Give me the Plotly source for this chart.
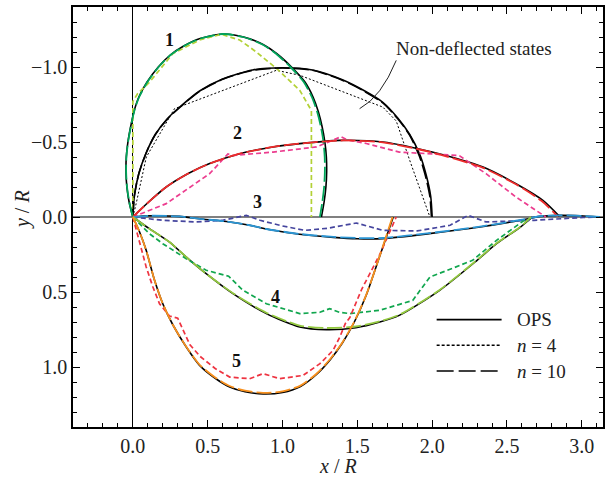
import plotly.graph_objects as go

# ---------------- data ----------------
# Non-deflected states
nd_ops_x = [0, 0.01, 0.04, 0.09, 0.15, 0.23, 0.31, 0.446, 0.6, 0.8, 1.0, 1.2, 1.4, 1.55, 1.67, 1.77, 1.85, 1.92, 1.96, 1.99, 2.0]
nd_ops_y = [0, -0.14, -0.29, -0.43, -0.55, -0.655, -0.73, -0.84, -0.92, -0.98, -0.995, -0.98, -0.915, -0.84, -0.765, -0.66, -0.55, -0.41, -0.28, -0.14, 0]
nd_n10_x = [0, 0.01, 0.04, 0.09, 0.15, 0.23, 0.31, 0.446, 0.6, 0.8, 1.0, 1.2, 1.4, 1.55, 1.67, 1.77, 1.85, 1.915, 1.955, 1.985, 1.995]
nd_n10_y = [0, -0.14, -0.29, -0.43, -0.55, -0.652, -0.728, -0.838, -0.918, -0.978, -0.993, -0.978, -0.912, -0.836, -0.76, -0.655, -0.545, -0.405, -0.275, -0.135, 0]
nd_n4_x = [0, 0.022, 0.09, 0.278, 0.959, 1.115, 1.67, 1.76, 1.85, 1.985]
nd_n4_y = [0, -0.089, -0.40, -0.722, -0.978, -0.945, -0.733, -0.64, -0.378, 0]

# Curve 1
c1_ops_x = [0, -0.025, -0.04, -0.046, -0.044, -0.033, -0.011, 0.012, 0.04, 0.095, 0.17, 0.25, 0.34, 0.45, 0.60, 0.74, 0.87, 0.96, 1.06, 1.15, 1.204, 1.24, 1.265, 1.283, 1.293, 1.295, 1.29, 1.278, 1.26]
c1_ops_y = [0, -0.1, -0.2, -0.3, -0.4, -0.5, -0.62, -0.72, -0.80, -0.90, -1.0, -1.08, -1.14, -1.19, -1.22, -1.20, -1.15, -1.09, -1.0, -0.9, -0.8, -0.7, -0.6, -0.5, -0.4, -0.3, -0.2, -0.1, 0.0]
c1_n10_x = [0, -0.024, -0.039, -0.045, -0.043, -0.032, -0.01, 0.013, 0.042, 0.097, 0.172, 0.252, 0.342, 0.452, 0.60, 0.738, 0.866, 0.955, 1.053, 1.142, 1.196, 1.232, 1.257, 1.274, 1.282, 1.283, 1.278, 1.266, 1.25]
c1_n10_y = [0, -0.1, -0.2, -0.3, -0.4, -0.5, -0.62, -0.72, -0.80, -0.90, -1.0, -1.08, -1.14, -1.19, -1.22, -1.20, -1.15, -1.09, -1.0, -0.9, -0.8, -0.7, -0.6, -0.5, -0.4, -0.3, -0.2, -0.1, 0.0]
c1_n4_x = [0, 0.0, 0.0, 0.03, 0.112, 0.268, 0.446, 0.591, 0.714, 0.825, 0.96, 1.115, 1.193, 1.193]
c1_n4_y = [0, -0.40, -0.77, -0.82, -0.90, -1.09, -1.18, -1.218, -1.18, -1.10, -0.99, -0.845, -0.71, 0.0]

# Curve 2
c2_ops_x = [0, 0.1, 0.223, 0.37, 0.513, 0.714, 0.937, 1.115, 1.38, 1.67, 2.0, 2.34, 2.56, 2.74, 2.85]
c2_ops_y = [0, -0.095, -0.2, -0.29, -0.356, -0.422, -0.467, -0.489, -0.511, -0.50, -0.433, -0.333, -0.222, -0.111, -0.005]
c2_n10_x = [0, 0.1, 0.223, 0.37, 0.513, 0.714, 0.937, 1.115, 1.38, 1.67, 2.0, 2.34, 2.56, 2.73, 2.84]
c2_n10_y = [0, -0.095, -0.2, -0.29, -0.356, -0.422, -0.467, -0.489, -0.51, -0.498, -0.43, -0.328, -0.218, -0.108, -0.003]
c2_n4_x = [0, 0.223, 0.513, 0.60, 0.635, 0.67, 0.937, 1.227, 1.36, 1.39, 1.43, 1.56, 1.78, 2.18, 2.36, 2.56, 2.76]
c2_n4_y = [0, -0.089, -0.289, -0.38, -0.42, -0.41, -0.433, -0.467, -0.52, -0.535, -0.515, -0.49, -0.433, -0.41, -0.289, -0.133, 0]

# Curve 3
c3_ops_x = [0, 0.11, 0.31, 0.446, 0.625, 0.78, 0.892, 1.115, 1.34, 1.5, 1.67, 1.98, 2.32, 2.59, 2.72, 2.85, 2.99, 3.12]
c3_ops_y = [0, -0.008, -0.004, 0.012, 0.03, 0.055, 0.08, 0.115, 0.136, 0.145, 0.144, 0.111, 0.067, 0.022, -0.004, -0.011, -0.008, 0]
c3_n10_x = [0, 0.11, 0.31, 0.446, 0.625, 0.78, 0.892, 1.115, 1.34, 1.5, 1.67, 1.98, 2.32, 2.59, 2.72, 2.85, 2.99, 3.12]
c3_n10_y = [0, -0.008, -0.004, 0.012, 0.03, 0.055, 0.08, 0.113, 0.133, 0.14, 0.14, 0.108, 0.064, 0.02, -0.005, -0.011, -0.008, 0]
c3_n4_x = [0, 0.2, 0.424, 0.6, 0.758, 0.85, 1.0, 1.15, 1.3, 1.494, 1.67, 1.9, 2.12, 2.24, 2.36, 2.68, 3.01, 3.1]
c3_n4_y = [0, 0.022, 0.033, 0.022, -0.011, 0.022, 0.06, 0.089, 0.075, 0.04, 0.089, 0.093, 0.055, -0.011, 0.033, 0.022, 0.003, 0]

# Curve 4
c4_ops_x = [0, 0.11, 0.245, 0.357, 0.49, 0.669, 0.892, 1.115, 1.293, 1.49, 1.65, 1.78, 2.05, 2.3, 2.43, 2.59, 2.67]
c4_ops_y = [0, 0.078, 0.167, 0.267, 0.378, 0.511, 0.644, 0.733, 0.751, 0.738, 0.70, 0.656, 0.489, 0.289, 0.178, 0.067, 0.0]
c4_n10_x = [0, 0.11, 0.245, 0.357, 0.49, 0.669, 0.892, 1.115, 1.293, 1.49, 1.65, 1.78, 2.05, 2.3, 2.43, 2.59, 2.66]
c4_n10_y = [0, 0.078, 0.167, 0.267, 0.378, 0.508, 0.638, 0.724, 0.74, 0.73, 0.695, 0.652, 0.486, 0.286, 0.176, 0.065, 0.0]
c4_n4_x = [0, 0.11, 0.2, 0.357, 0.49, 0.6, 0.64, 0.736, 0.892, 1.115, 1.25, 1.315, 1.38, 1.45, 1.65, 1.87, 1.985, 2.1, 2.27, 2.43, 2.63]
c4_n4_y = [0, 0.111, 0.178, 0.278, 0.355, 0.385, 0.395, 0.489, 0.578, 0.644, 0.635, 0.611, 0.635, 0.644, 0.622, 0.556, 0.40, 0.356, 0.289, 0.156, 0.011]

# Curve 5
c5_ops_x = [0, 0.045, 0.089, 0.145, 0.2, 0.268, 0.357, 0.446, 0.55, 0.647, 0.75, 0.87, 1.0, 1.12, 1.227, 1.32, 1.40, 1.48, 1.56, 1.65, 1.74]
c5_ops_y = [0, 0.10, 0.222, 0.422, 0.578, 0.72, 0.867, 0.989, 1.075, 1.133, 1.165, 1.18, 1.17, 1.13, 1.05, 0.95, 0.84, 0.70, 0.52, 0.26, 0]
c5_n10_x = [0, 0.045, 0.089, 0.145, 0.2, 0.268, 0.357, 0.446, 0.55, 0.647, 0.75, 0.87, 1.0, 1.12, 1.227, 1.32, 1.40, 1.48, 1.56, 1.65, 1.735]
c5_n10_y = [0, 0.10, 0.222, 0.422, 0.578, 0.72, 0.865, 0.985, 1.07, 1.127, 1.158, 1.172, 1.163, 1.124, 1.045, 0.945, 0.836, 0.697, 0.518, 0.258, 0]
c5_n4_x = [0, 0.045, 0.089, 0.134, 0.178, 0.245, 0.30, 0.334, 0.38, 0.45, 0.55, 0.647, 0.78, 0.87, 0.98, 1.137, 1.25, 1.338, 1.383, 1.42, 1.45, 1.53, 1.65, 1.76]
c5_n4_y = [0, 0.178, 0.333, 0.467, 0.578, 0.660, 0.675, 0.75, 0.85, 0.93, 1.01, 1.067, 1.078, 1.044, 1.078, 1.056, 0.978, 0.889, 0.80, 0.71, 0.67, 0.48, 0.25, 0]

x_ticks = [0.0, 0.5, 1.0, 1.5, 2.0, 2.5, 3.0]
x_ticktext = ["0.0", "0.5", "1.0", "1.5", "2.0", "2.5", "3.0"]
y_ticks = [-1.0, -0.5, 0.0, 0.5, 1.0]
y_ticktext = ["\u22121.0", "\u22120.5", "0.0", "0.5", "1.0"]

curve_labels = ["1", "2", "3", "4", "5"]
label_x = [0.245, 0.70, 0.83, 0.95, 0.69]
label_y = [-1.18, -0.56, -0.10, 0.53, 0.96]

legend_names = ["OPS", "<i>n</i> = 4", "<i>n</i> = 10"]

# ---------------- figure ----------------
FONT = "Liberation Serif, Times New Roman, serif"
SHORT = "5px,3px"
LONG = "15px,4px"
DOT = "2px,2px"

fig = go.Figure()

def add(x, y, color, dash, width, shape="spline"):
    fig.add_trace(go.Scatter(
        x=x, y=y, mode="lines", showlegend=False, hoverinfo="skip",
        line=dict(color=color, dash=dash, width=width, shape=shape,
                  smoothing=0.7 if shape == "spline" else None)))

# OPS (black solid) underneath
for xs, ys in [(nd_ops_x, nd_ops_y), (c1_ops_x, c1_ops_y), (c2_ops_x, c2_ops_y),
               (c3_ops_x, c3_ops_y), (c4_ops_x, c4_ops_y), (c5_ops_x, c5_ops_y)]:
    add(xs, ys, "black", "solid", 1.6)

# n = 4 (short dashes)
add(nd_n4_x, nd_n4_y, "black", DOT, 1.0, "linear")
add(c1_n4_x, c1_n4_y, "#b3d136", SHORT, 1.7, "linear")
add(c2_n4_x, c2_n4_y, "#ec3d8f", SHORT, 1.7, "linear")
add(c3_n4_x, c3_n4_y, "#45459e", SHORT, 1.7, "linear")
add(c4_n4_x, c4_n4_y, "#10a64e", SHORT, 1.7, "linear")
add(c5_n4_x, c5_n4_y, "#ee3340", SHORT, 1.7, "linear")

# n = 10 (long dashes)
add(nd_n10_x, nd_n10_y, "black", LONG, 1.6)
add(c1_n10_x, c1_n10_y, "#00a55a", LONG, 1.8)
add(c2_n10_x, c2_n10_y, "#ee2b2b", LONG, 1.8)
add(c3_n10_x, c3_n10_y, "#2b95d3", LONG, 1.8)
add(c4_n10_x, c4_n10_y, "#92c83e", LONG, 1.8)
add(c5_n10_x, c5_n10_y, "#f7901e", LONG, 1.8)

# curve number labels
for t, lx, ly in zip(curve_labels, label_x, label_y):
    fig.add_annotation(x=lx, y=ly, text="<b>%s</b>" % t, showarrow=False,
                       font=dict(family=FONT, size=18, color="#111"))

# "Non-deflected states" text and pointer
fig.add_annotation(x=2.28, y=-1.123, text="Non-deflected states", showarrow=False,
                   font=dict(family=FONT, size=19, color="#222"))
fig.add_shape(type="path", xref="x", yref="y",
              path="M 1.76,-1.044 Q 1.66,-0.80 1.515,-0.722",
              line=dict(color="#222", width=1))

# hand-drawn legend
leg_y = [0.684, 0.855, 1.027]
leg_dash = ["solid", "3px,2px", "17px,5px"]
for name, ly, dsh in zip(legend_names, leg_y, leg_dash):
    fig.add_shape(type="line", xref="x", yref="y", x0=2.03, x1=2.464, y0=ly, y1=ly,
                  line=dict(color="black", width=1.6, dash=dsh))
    fig.add_annotation(x=2.553, y=ly, text=name, showarrow=False, xanchor="left",
                       font=dict(family=FONT, size=19, color="#222"))

# axis titles
fig.add_annotation(xref="paper", yref="paper", x=0.5, y=-0.093, xanchor="center", yanchor="middle",
                   text="<i>x</i> / <i>R</i>",
                   showarrow=False, font=dict(family=FONT, size=20, color="#222"))
fig.add_annotation(xref="paper", yref="paper", x=-0.094, y=0.517, xanchor="center", yanchor="middle",
                   text="<i>y</i> / <i>R</i>",
                   showarrow=False, textangle=-90, font=dict(family=FONT, size=20, color="#222"))

axis_common = dict(
    showline=True, linecolor="black", linewidth=1.5, mirror="ticks",
    ticks="inside", ticklen=7, tickwidth=1, tickcolor="black",
    showgrid=False, automargin=False,
    tickfont=dict(family=FONT, size=20, color="#222"),
)

fig.update_xaxes(range=[-0.4, 3.1416], tickvals=x_ticks, ticktext=x_ticktext,
                 zeroline=True, zerolinecolor="black", zerolinewidth=1,
                 minor=dict(dtick=0.1, tick0=0, ticks="inside", ticklen=4, tickcolor="black", showgrid=False),
                 **axis_common)
fig.update_yaxes(range=[1.4, -1.4], tickvals=y_ticks, ticktext=y_ticktext,
                 zeroline=True, zerolinecolor="#808080", zerolinewidth=1.5,
                 minor=dict(dtick=0.1, tick0=0, ticks="inside", ticklen=4, tickcolor="black", showgrid=False),
                 **axis_common)

fig.update_layout(width=605, height=479, margin=dict(l=73, r=2, t=7, b=52, autoexpand=False),
                  font=dict(family=FONT, size=17, color="#222"),
                  plot_bgcolor="white", paper_bgcolor="white", showlegend=False)

fig.write_html("out.html", config={"displayModeBar": False},
               post_script="document.body.style.margin='0';document.body.style.overflow='hidden';")
